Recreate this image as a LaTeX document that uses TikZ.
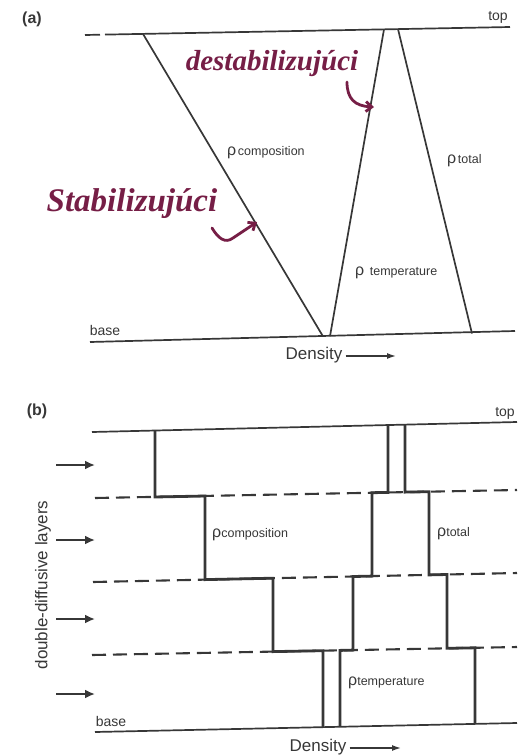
\documentclass[tikz,border=0pt]{standalone}
\usepackage{fontspec}
\setmainfont{Liberation Sans}
\newfontfamily\handfont{Liberation Serif}
\usetikzlibrary{arrows.meta}
\definecolor{ink}{RGB}{118,30,70}
\definecolor{printgray}{RGB}{55,55,55}

\begin{document}
\begin{tikzpicture}[x=1pt, y=-1pt,
	thinline/.style={draw=printgray, line width=1.7pt},
	stepline/.style={draw=printgray, line width=2.8pt, line join=miter},
	layerline/.style={draw=printgray, line width=2.1pt, dash pattern=on 14pt off 7pt},
	panel/.style={text=printgray, font=\fontsize{16}{18}\selectfont\bfseries, inner sep=0pt},
	lbl/.style={text=printgray, font=\fontsize{14}{16}\selectfont, inner sep=0pt},
	axis/.style={text=printgray, font=\fontsize{17}{19}\selectfont, inner sep=0pt},
	rholbl/.style={text=printgray, anchor=west, inner sep=0pt},
	hand/.style={text=ink, font=\handfont\bfseries\itshape, inner sep=0pt},
	handarrow/.style={draw=ink, line width=2.8pt, line cap=round, -{Straight Barb[length=6pt, width=10pt]}},
	densarrow/.style={draw=printgray, line width=1.4pt, -{Latex[length=9pt, width=6pt]}},
	layerarrow/.style={draw=printgray, line width=2pt, -{Latex[length=10pt, width=9pt]}}]
	\useasboundingbox (0,0) rectangle (526,756);
	\newcommand{\rhotext}[2]{{\fontsize{16}{16}\selectfont ρ}#1{\fontsize{12.5}{14}\selectfont #2}}

	% Panel (a): linear profiles
	\node[panel] (lblA) at (32,19) {(a)};
	\node[lbl] (topA) at (498,17) {top};
	\node[lbl] (baseA) at (105,330) {base};
	\draw[thinline] (85,35) -- (100,34.7);
	\draw[thinline] (105,34.6) -- (510,27);
	\draw[thinline] (90,342) -- (515,331);
	\coordinate (compTop) at (143,33.9);
	\coordinate (compBot) at (323,336.4);
	\coordinate (tempTop) at (384,29.4);
	\coordinate (tempBot) at (330,336.2);
	\coordinate (totTop) at (398,29.1);
	\coordinate (totBot) at (472,333.5);
	\draw[thinline] (compTop) -- (compBot);
	\draw[thinline] (tempTop) -- (tempBot);
	\draw[thinline] (totTop) -- (totBot);
	\node[rholbl] (compA) at (227,153) {\rhotext{\,}{composition}};
	\node[rholbl] (totA) at (447,161) {\rhotext{\,}{total}};
	\node[rholbl] (tempA) at (355,273) {\rhotext{\;\;}{temperature}};
	\node[axis] (densA) at (314,355) {Density};
	\coordinate (densAend) at (396,356);
	\draw[densarrow] (densA.east) ++(3pt,1) -- (densAend);

	% handwritten notes
	\node[hand, font=\handfont\bfseries\itshape\fontsize{29}{31}\selectfont] (destab) at (272,64) {destabilizujúci};
	\node[hand, font=\handfont\bfseries\itshape\fontsize{33}{35}\selectfont] (stab) at (132,204) {Stabilizujúci};
	\coordinate (destabFrom) at (347,82);
	\coordinate (destabTo) at (374,107);
	\coordinate (stabFrom) at (212,228);
	\coordinate (stabTo) at (257,222);
	\draw[handarrow] (destabFrom) .. controls (347,99) and (355,106) .. (destabTo);
	\draw[handarrow] (stabFrom) .. controls (218,238) and (225,244) .. (233,238) -- (stabTo);

	% Panel (b): stepped profiles in layers
	\node[panel] (lblB) at (37,411) {(b)};
	\node[lbl] (topB) at (505,413) {top};
	\node[lbl] (baseB) at (111,721) {base};
	\draw[thinline] (92,432) -- (517,422);
	\draw[layerline] (95,498) -- (517,490);
	\draw[layerline] (93,582) -- (517,573);
	\draw[layerline] (92,655) -- (517,647);
	\draw[thinline] (95,732) -- (517,723);
	\draw[stepline] (155,430.5) -- (155,497) -- (205,496) -- (205,579.6) -- (273,578.2)
		-- (273,651.6) -- (323,650.7) -- (323,727.1);
	\draw[stepline] (388,425) -- (388,492.4) -- (372,492.7) -- (372,576.1) -- (353,576.5)
		-- (353,650.1) -- (340,650.4) -- (340,726.8);
	\draw[stepline] (405,424.6) -- (405,492.1) -- (429,491.7) -- (429,574.9) -- (447,574.5)
		-- (447,648.3) -- (475,647.8) -- (475,723.9);
	\node[rholbl] (compB) at (212,535) {\rhotext{}{composition}};
	\node[rholbl] (totB) at (437,534) {\rhotext{}{total}};
	\node[rholbl] (tempB) at (348,683) {\rhotext{}{temperature}};
	\node[axis] (densB) at (318,747) {Density};
	\coordinate (densBend) at (401,748);
	\draw[densarrow] (densB.east) ++(3pt,1) -- (densBend);
	\node[axis, rotate=90] (layersB) at (43,585) {double-diffusive layers};
	\foreach \y [count=\i] in {465,540,619,694} {
		\coordinate (arrS\i) at (56,\y);
		\coordinate (arrE\i) at (95,\y);
		\draw[layerarrow] (arrS\i) -- (arrE\i);
	}
\end{tikzpicture}
\end{document}
